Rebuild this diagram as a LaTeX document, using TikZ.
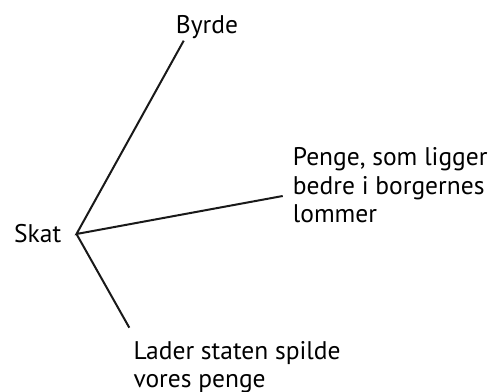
\documentclass[tikz,border=0pt]{standalone}
\usepackage{fontspec}
\setmainfont{PT Sans}
\begin{document}
\begin{tikzpicture}[x=1pt,y=1pt,
  lbl/.style={inner sep=0pt,anchor=base west,font=\fontsize{25.5}{28.7}\selectfont},
  branch/.style={line width=2pt,black!90}]
\useasboundingbox (0,0) rectangle (492,391);
\coordinate (c) at (76.5,157);
\coordinate (e1) at (183.7,350.3);
\coordinate (e2) at (282.7,195);
\coordinate (e3) at (129.3,63.3);
\node[lbl] (skat) at (14,149) {Skat};
\node[lbl] (byrde) at (175.7,357.7) {Byrde};
\node[lbl] (penge1) at (292.7,225.3) {Penge, som ligger};
\node[lbl] (penge2) at (292.7,196.7) {bedre i borgernes};
\node[lbl] (penge3) at (292.7,168) {lommer};
\node[lbl] (lader1) at (133.3,32) {Lader staten spilde};
\node[lbl] (lader2) at (133.3,3.3) {vores penge};
\draw[branch] (e1) -- (c) -- (e2);
\draw[branch] (c) -- (e3);
\end{tikzpicture}
\end{document}
